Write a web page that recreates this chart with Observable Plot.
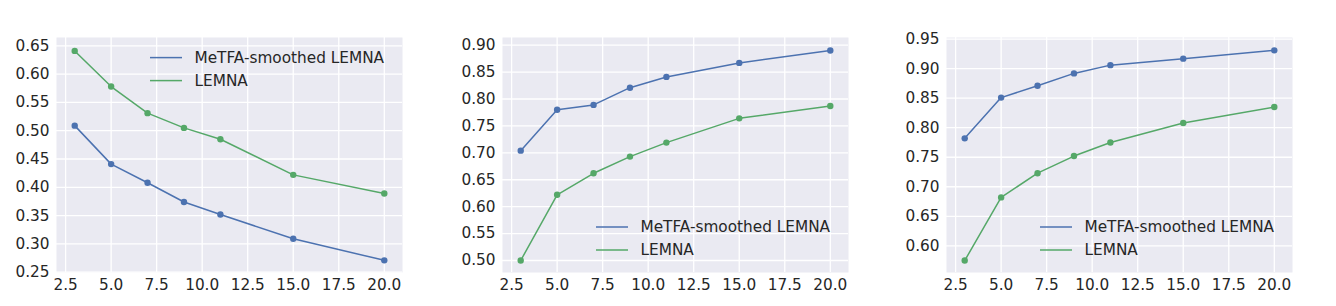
<!DOCTYPE html>
<html><head><meta charset="utf-8">
<script src="https://cdn.jsdelivr.net/npm/d3@7"></script>
<script src="https://cdn.jsdelivr.net/npm/@observablehq/plot@0.6"></script>
<style>
body{margin:0;background:#fff;}
#wrap{position:relative;width:1336px;height:306px;overflow:hidden;}
.panel{position:absolute;top:0;}
</style></head><body><div id="wrap"></div>
<script>
// ---- data ----
const xValues = [3, 5, 7, 9, 11, 15, 20];
const seriesNames = ["MeTFA-smoothed LEMNA", "LEMNA"];
const seriesColors = ["#4C72B0", "#55A868"];

const p1Smoothed = [0.509, 0.441, 0.408, 0.374, 0.352, 0.309, 0.271];
const p1Lemna    = [0.641, 0.578, 0.531, 0.505, 0.485, 0.422, 0.389];

const p2Smoothed = [0.704, 0.780, 0.789, 0.821, 0.841, 0.867, 0.890];
const p2Lemna    = [0.500, 0.622, 0.662, 0.693, 0.719, 0.764, 0.787];

const p3Smoothed = [0.782, 0.851, 0.871, 0.892, 0.906, 0.917, 0.931];
const p3Lemna    = [0.575, 0.682, 0.723, 0.752, 0.775, 0.808, 0.835];

const xTicks = [2.5, 5, 7.5, 10, 12.5, 15, 17.5, 20];
const p1YTicks = [0.25, 0.30, 0.35, 0.40, 0.45, 0.50, 0.55, 0.60, 0.65];
const p2YTicks = [0.50, 0.55, 0.60, 0.65, 0.70, 0.75, 0.80, 0.85, 0.90];
const p3YTicks = [0.60, 0.65, 0.70, 0.75, 0.80, 0.85, 0.90, 0.95];

// ---- layout ----
const panels = [
  {left: 0,   width: 446, yDomain: [0.2495, 0.6647], yTicks: p1YTicks, smoothed: p1Smoothed, lemna: p1Lemna, legendTop: true},
  {left: 446, width: 445, yDomain: [0.4777, 0.9142], yTicks: p2YTicks, smoothed: p2Smoothed, lemna: p2Lemna, legendTop: false},
  {left: 890, width: 446, yDomain: [0.5548, 0.9528], yTicks: p3YTicks, smoothed: p3Smoothed, lemna: p3Lemna, legendTop: false}
];
const frameW = 346, mL = 56, mT = 37, mB = 34, H = 306;
const textColor = "#262626";
const fs = 15.3;

const wrap = document.getElementById("wrap");
for (const p of panels) {
  const data = [];
  xValues.forEach((x, i) => {
    data.push({x, y: p.smoothed[i], series: seriesNames[0]});
    data.push({x, y: p.lemna[i], series: seriesNames[1]});
  });
  const chart = Plot.plot({
    width: p.width, height: H,
    marginLeft: mL, marginRight: p.width - mL - frameW, marginTop: mT, marginBottom: mB,
    style: {fontFamily: "DejaVu Sans", fontSize: fs + "px", color: textColor, background: "transparent"},
    x: {domain: [2.0, 21.0]},
    y: {domain: p.yDomain},
    color: {domain: seriesNames, range: seriesColors},
    marks: [
      Plot.frame({fill: "#EAEAF2", stroke: null}),
      Plot.gridX(xTicks, {stroke: "white", strokeOpacity: 1, strokeWidth: 1.3}),
      Plot.gridY(p.yTicks, {stroke: "white", strokeOpacity: 1, strokeWidth: 1.3}),
      Plot.axisX(xTicks, {tickSize: 0, tickPadding: 7, fontSize: fs, tickFormat: d => d.toFixed(1), label: null, fill: textColor}),
      Plot.axisY(p.yTicks, {tickSize: 0, tickPadding: 7, fontSize: fs, tickFormat: d => d.toFixed(2), label: null, fill: textColor}),
      Plot.line(data, {x: "x", y: "y", z: "series", stroke: "series", strokeWidth: 1.5}),
      Plot.dot(data, {x: "x", y: "y", fill: "series", r: 3.2})
    ]
  });
  // legend (drawn inside the frame like matplotlib)
  const svg = d3.select(chart);
  const g = svg.append("g").attr("font-family", "DejaVu Sans").attr("font-size", fs + "px")
    .attr("text-anchor", "start");
  const baseY = p.legendTop ? mT + 20.6 : mT + 190;
  seriesNames.forEach((name, i) => {
    const y = baseY + i * 23;
    g.append("line").attr("x1", mL + 94).attr("x2", mL + 126).attr("y1", y).attr("y2", y)
      .attr("stroke", seriesColors[i]).attr("stroke-width", 1.5);
    g.append("text").attr("x", mL + 138.5).attr("y", y).attr("dy", "0.35em")
      .attr("text-anchor", "start").attr("fill", textColor).text(name);
  });
  const div = document.createElement("div");
  div.className = "panel";
  div.style.left = p.left + "px";
  div.appendChild(chart);
  wrap.appendChild(div);
}
</script>
</body></html>
